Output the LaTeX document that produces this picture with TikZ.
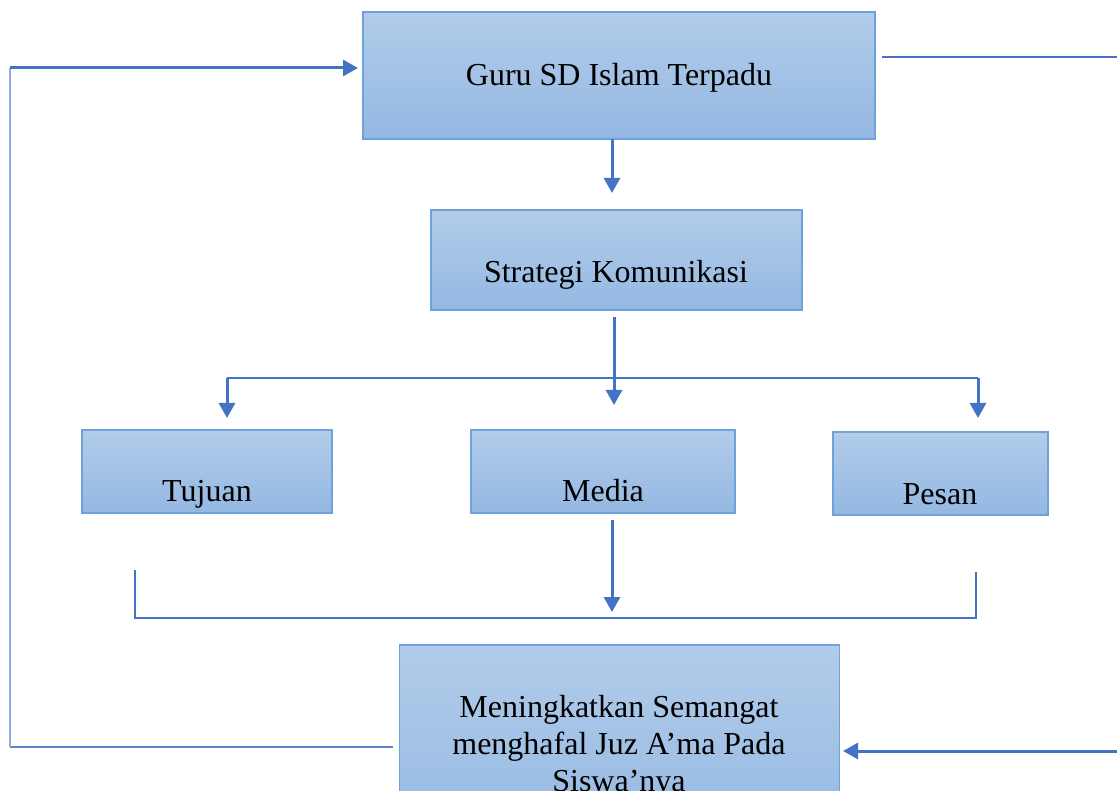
\documentclass[tikz,border=0pt]{standalone}
\usepackage{fontspec}
\setmainfont{Liberation Serif}
\usetikzlibrary{arrows.meta}
\definecolor{arrowblue}{HTML}{4472C4}
\definecolor{lightline}{HTML}{8FAADC}
\definecolor{midline}{HTML}{5B82CC}
\definecolor{boxtop}{HTML}{B2CCEA}
\definecolor{boxbottom}{HTML}{94B8E2}
\definecolor{boxborder}{HTML}{6FA1DA}
\begin{document}
\begin{tikzpicture}[x=1pt,y=-1pt,
  flowbox/.style={draw=boxborder, line width=1.6pt, top color=boxtop, bottom color=boxbottom, inner sep=0pt},
  txt/.style={font=\fontsize{32}{37}\selectfont, anchor=base, inner sep=0pt},
  arr/.style={draw=arrowblue, line width=3pt, -{Triangle[width=16pt,length=15pt]}},
  thinline/.style={draw=arrowblue, line width=1.7pt},
  paleline/.style={draw=lightline, line width=2.2pt}]
\useasboundingbox (0,0) rectangle (1117,791);
\clip (0,0) rectangle (1117,791);

% boxes
\node[flowbox, minimum width=512pt, minimum height=127pt] (guru) at (619,75.5) {};
\node[flowbox, minimum width=371pt, minimum height=100pt] (strat) at (616.5,260) {};
\node[flowbox, minimum width=250pt, minimum height=83pt] (tujuan) at (207,471.5) {};
\node[flowbox, minimum width=264pt, minimum height=83pt] (media) at (603,471.5) {};
\node[flowbox, minimum width=215pt, minimum height=83pt] (pesan) at (940.5,473.5) {};
\node[flowbox, minimum width=440pt, minimum height=200pt] (hasil) at (619.5,745) {};

% texts
\node[txt] (tguru) at (619,86) {Guru SD Islam Terpadu};
\node[txt] (tstrat) at (616,283) {Strategi Komunikasi};
\node[txt] (ttuj) at (207,501) {Tujuan};
\node[txt] (tmed) at (603,501) {Media};
\node[txt] (tpes) at (940,504) {Pesan};
\node[txt] (th1) at (619,717) {Meningkatkan Semangat};
\node[txt] (th2) at (619,754) {menghafal Juz A’ma Pada};
\node[txt] (th3) at (619,791) {Siswa’nya};

% coordinates
\coordinate (g1) at (612,139);
\coordinate (g2) at (612,193);
\coordinate (s1) at (614,317);
\coordinate (s2) at (614,405);
\coordinate (hl) at (227,378);
\coordinate (hr) at (978,378);
\coordinate (tl) at (227,418);
\coordinate (tr) at (978,418);
\coordinate (b1) at (135,570);
\coordinate (b2) at (135,618);
\coordinate (b3) at (976,618);
\coordinate (b4) at (976,572);
\coordinate (m1) at (612,520);
\coordinate (m2) at (612,612);
\coordinate (l0) at (393,747);
\coordinate (l1) at (10,747);
\coordinate (l2) at (10,68);
\coordinate (l3) at (358,68);
\coordinate (r0) at (882,57);
\coordinate (r1) at (1117,57);
\coordinate (r2) at (1117,751);
\coordinate (r3) at (843,751);

% connectors
\draw[arr] (g1) -- (g2);
\draw[arr] (s1) -- (s2);
\draw[thinline] (hl) -- (hr);
\draw[arr] (hl) -- (tl);
\draw[arr] (hr) -- (tr);
\draw[thinline] (b1) -- (b2) -- (b3) -- (b4);
\draw[arr] (m1) -- (m2);
\draw[draw=midline, line width=1.8pt] (l0) -- (l1);
\draw[paleline] (l1) -- (l2);
\draw[arr] (l2) -- (l3);
\draw[thinline] (r0) -- (r1);
\draw[arr] (r2) -- (r3);
\end{tikzpicture}
\end{document}
